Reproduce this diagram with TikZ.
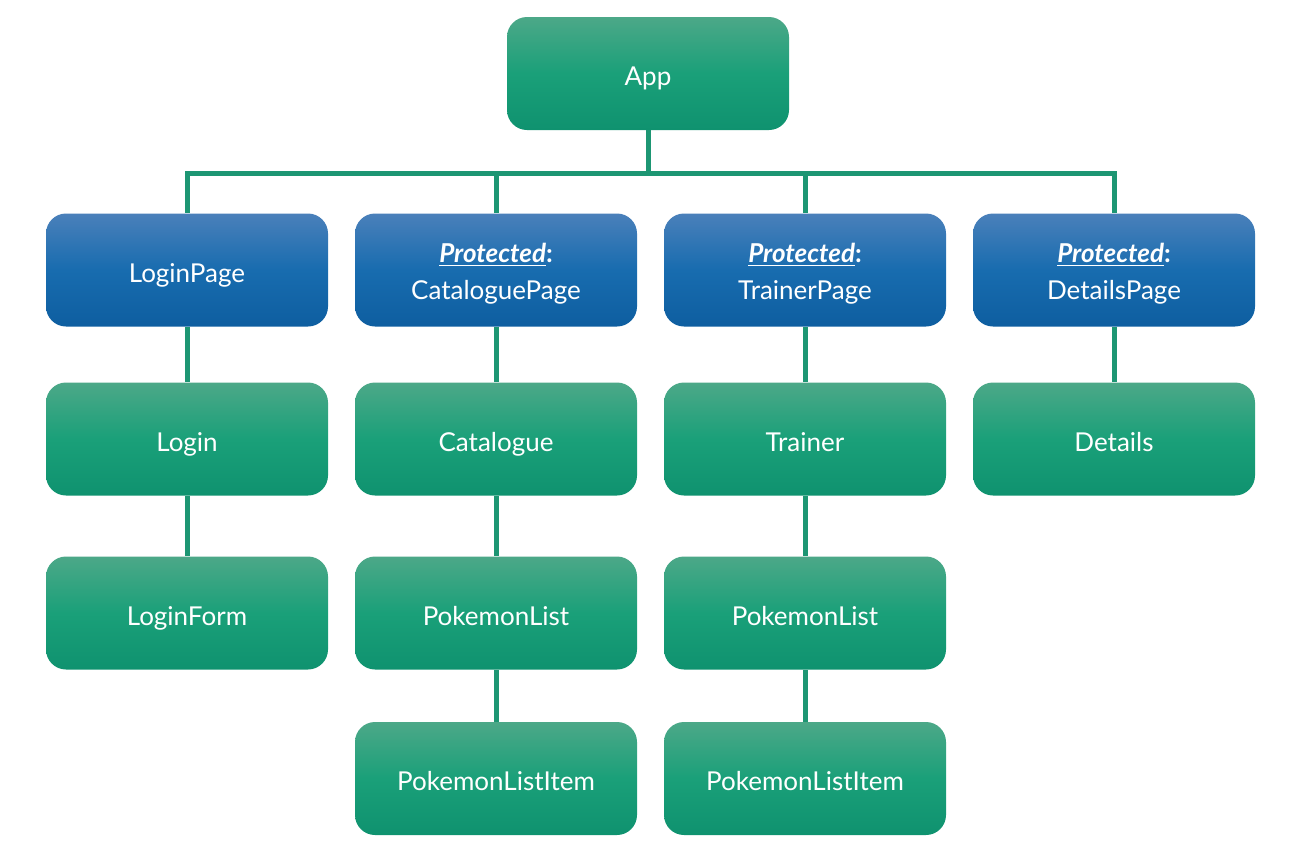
\documentclass[tikz,border=0pt]{standalone}
\usepackage{fontspec}
\setmainfont{Lato}
\begin{document}
\begin{tikzpicture}[x=0.5pt,y=-0.5pt,
  gbox/.style={rounded corners=10pt, minimum width=141pt, minimum height=56.5pt,
    top color=gtop, bottom color=gbot, middle color=gmid, text=white, font=\fontsize{13}{18.5}\selectfont, align=center, inner sep=0pt, text height=12pt, text depth=0pt},
  bbox/.style={gbox, top color=btop, bottom color=bbot, middle color=bmid},
  pbox/.style={bbox, text height=29pt},
  conn/.style={draw=lcol, line width=2.5pt}]
\definecolor{gtop}{RGB}{76,168,136}
\definecolor{gmid}{RGB}{26,160,121}
\definecolor{gbot}{RGB}{15,146,111}
\definecolor{btop}{RGB}{74,128,186}
\definecolor{bmid}{RGB}{24,108,175}
\definecolor{bbot}{RGB}{14,94,160}
\definecolor{lcol}{RGB}{29,150,115}
\newcommand{\prot}{\underline{\textbf{\textit{Protected}}}\textbf{:}}
\useasboundingbox (0,0) rectangle (1290,853);
\node[gbox] (app) at (648,73.5) {App};
\node[bbox] (lp) at (187,270) {LoginPage};
\node[pbox] (cp) at (496,270) {\prot\\CataloguePage};
\node[pbox] (tp) at (805,270) {\prot\\TrainerPage};
\node[pbox] (dp) at (1114,270) {\prot\\DetailsPage};
\node[gbox] (login) at (187,439) {Login};
\node[gbox] (cat) at (496,439) {Catalogue};
\node[gbox] (tr) at (805,439) {Trainer};
\node[gbox] (det) at (1114,439) {Details};
\node[gbox] (lf) at (187,613) {LoginForm};
\node[gbox] (pl1) at (496,613) {PokemonList};
\node[gbox] (pl2) at (805,613) {PokemonList};
\node[gbox] (pli1) at (496,778.5) {PokemonListItem};
\node[gbox] (pli2) at (805,778.5) {PokemonListItem};
\coordinate (bus) at (648,173);
\draw[conn] (app.south) -- (bus);
\draw[conn] (bus) -| (lp.north);
\draw[conn] (bus) -| (cp.north);
\draw[conn] (bus) -| (tp.north);
\draw[conn] (bus) -| (dp.north);
\draw[conn] (lp) -- (login);
\draw[conn] (login) -- (lf);
\draw[conn] (cp) -- (cat);
\draw[conn] (cat) -- (pl1);
\draw[conn] (pl1) -- (pli1);
\draw[conn] (tp) -- (tr);
\draw[conn] (tr) -- (pl2);
\draw[conn] (pl2) -- (pli2);
\draw[conn] (dp) -- (det);
\end{tikzpicture}
\end{document}
